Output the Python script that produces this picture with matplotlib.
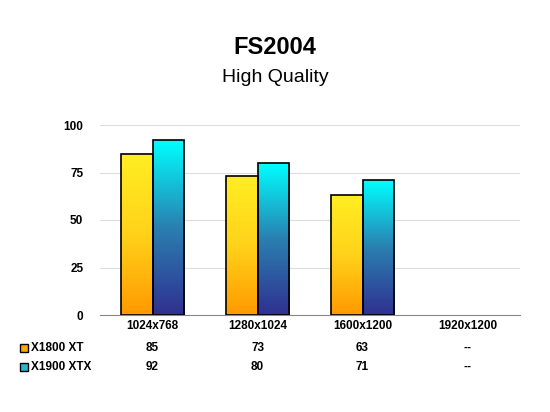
import matplotlib
matplotlib.use("Agg")
import matplotlib.pyplot as plt
import numpy as np
from matplotlib.colors import LinearSegmentedColormap

categories = ["1024x768", "1280x1024", "1600x1200", "1920x1200"]
series_names = ["X1800 XT", "X1900 XTX"]
x1800 = [85, 73, 63, None]
x1900 = [92, 80, 71, None]
yticks = [0, 25, 50, 75, 100]

fig = plt.figure(figsize=(5.5, 4.12), dpi=100)
ax = fig.add_axes([100/550, 1-315/412, 420/550, 190/412])
ax.set_xlim(0, 4)
ax.set_ylim(0, 100)
ax.set_yticks(yticks)
ax.set_yticklabels([str(t) for t in yticks], fontsize=8.5, fontweight="bold", family="Liberation Sans")
ax.set_xticks([])
for s in ["top", "right", "left"]:
    ax.spines[s].set_visible(False)
ax.spines["bottom"].set_color("#888888")
ax.tick_params(axis="y", length=0, pad=12)
ax.grid(axis="y", color="#dddddd", lw=0.8)
ax.set_axisbelow(True)

cmaps = [LinearSegmentedColormap.from_list("o", ["#ff9900", "#ffd21a", "#ffee22"]),
         LinearSegmentedColormap.from_list("c", ["#303090", "#2a7fb0", "#00ffff"])]
w = 0.3
grad = np.linspace(0, 1, 256).reshape(-1, 1)
for si, vals in enumerate([x1800, x1900]):
    for i, v in enumerate(vals):
        if v is None:
            continue
        x0 = i + 0.5 - w + si * w
        ax.imshow(grad, extent=[x0, x0 + w, 0, v], origin="lower", aspect="auto",
                  cmap=cmaps[si], zorder=2)
        ax.add_patch(plt.Rectangle((x0, 0), w, v, fill=False, ec="black", lw=1.2, zorder=3))
ax.set_xlim(0, 4)
ax.set_ylim(0, 100)

fig.text(0.5, 1-47/412, "FS2004", ha="center", va="center", fontsize=17, fontweight="bold", family="Liberation Sans")
fig.text(0.5, 1-77/412, "High Quality", ha="center", va="center", fontsize=14, family="Liberation Sans")

# data table
for i, c in enumerate(categories):
    xc = (100 + 420 * (i + 0.5) / 4) / 550
    fig.text(xc, 1-326/412, c, ha="center", va="center", fontsize=8.5, fontweight="bold", family="Liberation Sans")
sw = ["#ffaa00", "#22bbcc"]
for si, (name, vals) in enumerate(zip(series_names, [x1800, x1900])):
    y = 1 - (348 + si * 19) / 412
    fig.patches.append(plt.Rectangle((20/550, y - 4/412), 8/550, 8/412, transform=fig.transFigure,
                                     fc=sw[si], ec="black", lw=1))
    fig.text(31/550, y, name, ha="left", va="center", fontsize=8.5, fontweight="bold", family="Liberation Sans")
    for i, v in enumerate(vals):
        xc = (100 + 420 * (i + 0.5) / 4) / 550
        fig.text(xc, y, "--" if v is None else str(v), ha="center", va="center", fontsize=8.5,
                 fontweight="bold", family="Liberation Sans")

fig.savefig("out.png", dpi=100)
